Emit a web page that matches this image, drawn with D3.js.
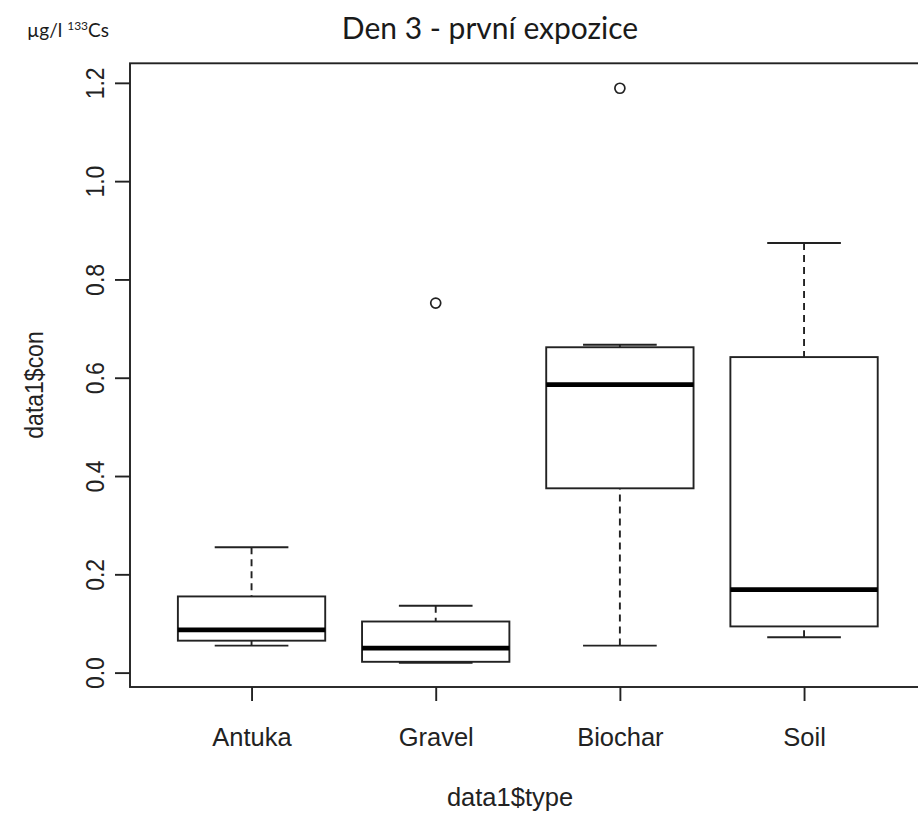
<!DOCTYPE html>
<html>
<head>
<meta charset="utf-8">
<script src="https://cdn.jsdelivr.net/npm/d3@7"></script>
<style>
  html, body { margin: 0; padding: 0; background: #fff; }
  svg { display: block; }
</style>
</head>
<body>
<svg id="chart" width="918" height="814"></svg>
<script>
// ---- data ----
const categories = ["Antuka", "Gravel", "Biochar", "Soil"];
const lowerWhisker = [0.055, 0.020, 0.055, 0.072];
const q1Values     = [0.065, 0.022, 0.375, 0.094];
const medianValues = [0.087, 0.050, 0.586, 0.169];
const q3Values     = [0.155, 0.104, 0.662, 0.642];
const upperWhisker = [0.255, 0.136, 0.667, 0.874];
const outlierCategory = ["Gravel", "Biochar"];
const outlierValues   = [0.752, 1.189];
const yTickValues = [0.0, 0.2, 0.4, 0.6, 0.8, 1.0, 1.2];
const yTickLabels = ["0.0", "0.2", "0.4", "0.6", "0.8", "1.0", "1.2"];
const titleText = "Den 3 - první expozice";
const xLabel = "data1$type";
const yLabel = "data1$con";

// ---- layout ----
const plot = { left: 130, right: 925.6, top: 63.3, bottom: 687 };
const svg = d3.select("#chart");
const ink = "#222";
const lw = 1.9;
const sx = 1.11; // horizontal stretch used for rotated labels
const hx = 1.02; // horizontal stretch for horizontal labels
const fontR = "'Liberation Sans', Arial, sans-serif";

// R-like extension of ranges (4%)
const n = categories.length;
const xExt = 0.04 * n;
const x = d3.scaleLinear().domain([0.5 - xExt, n + 0.5 + xExt]).range([plot.left, plot.right]);
const allVals = lowerWhisker.concat(upperWhisker, outlierValues);
const yMin = d3.min(allVals), yMax = d3.max(allVals);
const yExt = 0.04 * (yMax - yMin);
const y = d3.scaleLinear().domain([yMin - yExt - 0.0025, yMax + yExt + 0.004]).range([plot.bottom, plot.top]);

const boxes = categories.map((c, i) => ({
  cat: c, pos: i + 1,
  lo: lowerWhisker[i], q1: q1Values[i], med: medianValues[i], q3: q3Values[i], hi: upperWhisker[i]
}));
const boxHalf = 0.4, capHalf = 0.2;

const g = svg.append("g");

// whiskers (dashed)
g.selectAll(".wlo").data(boxes).join("line")
  .attr("x1", d => x(d.pos)).attr("x2", d => x(d.pos))
  .attr("y1", d => y(d.lo)).attr("y2", d => y(d.q1))
  .attr("stroke", ink).attr("stroke-width", lw).attr("stroke-dasharray", "7,5");
g.selectAll(".whi").data(boxes).join("line")
  .attr("x1", d => x(d.pos)).attr("x2", d => x(d.pos))
  .attr("y1", d => y(d.hi)).attr("y2", d => y(d.q3))
  .attr("stroke", ink).attr("stroke-width", lw).attr("stroke-dasharray", "7,5");
// caps
["lo", "hi"].forEach(k => {
  g.selectAll(".cap" + k).data(boxes).join("line")
    .attr("x1", d => x(d.pos - capHalf)).attr("x2", d => x(d.pos + capHalf))
    .attr("y1", d => y(d[k])).attr("y2", d => y(d[k]))
    .attr("stroke", ink).attr("stroke-width", lw);
});
// boxes
g.selectAll(".box").data(boxes).join("rect")
  .attr("x", d => x(d.pos - boxHalf)).attr("width", d => x(d.pos + boxHalf) - x(d.pos - boxHalf))
  .attr("y", d => y(d.q3)).attr("height", d => y(d.q1) - y(d.q3))
  .attr("fill", "#fff").attr("stroke", ink).attr("stroke-width", lw);
// medians
g.selectAll(".med").data(boxes).join("line")
  .attr("x1", d => x(d.pos - boxHalf)).attr("x2", d => x(d.pos + boxHalf))
  .attr("y1", d => y(d.med)).attr("y2", d => y(d.med))
  .attr("stroke", "#000").attr("stroke-width", 4.8);
// outliers
g.selectAll(".out").data(outlierValues.map((v, i) => ({ v, pos: categories.indexOf(outlierCategory[i]) + 1 })))
  .join("circle")
  .attr("cx", d => x(d.pos)).attr("cy", d => y(d.v)).attr("r", 5)
  .attr("fill", "none").attr("stroke", ink).attr("stroke-width", 1.7);

// frame
svg.append("rect")
  .attr("x", plot.left).attr("y", plot.top)
  .attr("width", plot.right - plot.left).attr("height", plot.bottom - plot.top)
  .attr("fill", "none").attr("stroke", ink).attr("stroke-width", lw);

// y axis
const yAxis = d3.axisLeft(y).tickValues(yTickValues)
  .tickFormat((d, i) => yTickLabels[i]).tickSize(15).tickSizeOuter(0);
const ya = svg.append("g").attr("transform", `translate(${plot.left},0)`).call(yAxis);
ya.select(".domain").remove();
ya.selectAll(".tick line").attr("stroke", ink).attr("stroke-width", lw);
ya.selectAll(".tick text")
  .attr("x", 0).attr("y", 0).attr("dy", 0)
  .attr("transform", `translate(-26,0) rotate(-90) scale(1,${sx})`)
  .attr("text-anchor", "middle")
  .attr("font-family", fontR)
  .attr("font-size", 23).attr("fill", "#222");

// x axis
const xAxis = d3.axisBottom(x).tickValues(boxes.map(d => d.pos))
  .tickFormat((d, i) => categories[i]).tickSize(14).tickSizeOuter(0);
const xa = svg.append("g").attr("transform", `translate(0,${plot.bottom})`).call(xAxis);
xa.select(".domain").remove();
xa.selectAll(".tick line").attr("stroke", ink).attr("stroke-width", lw);
xa.selectAll(".tick text")
  .attr("y", 0).attr("dy", 0)
  .attr("transform", `translate(0,59) scale(${hx},1)`)
  .attr("font-family", fontR)
  .attr("font-size", 25).attr("fill", "#222");

// axis titles
svg.append("text")
  .attr("transform", `translate(510,806) scale(${hx},1)`)
  .attr("text-anchor", "middle")
  .attr("font-family", fontR)
  .attr("font-size", 25).attr("fill", "#222").text(xLabel);
svg.append("text")
  .attr("transform", `translate(43,385) rotate(-90) scale(1,${sx})`)
  .attr("text-anchor", "middle")
  .attr("font-family", fontR)
  .attr("font-size", 23).attr("fill", "#222").text(yLabel);

// title
svg.append("text").attr("x", 490).attr("y", 39)
  .attr("text-anchor", "middle")
  .attr("font-family", "Lato, 'Open Sans', sans-serif")
  .attr("font-size", 30).attr("fill", "#1a1a1a").text(titleText);

// unit label
const unit = svg.append("text").attr("x", 27).attr("y", 37)
  .attr("font-family", "Lato, 'Open Sans', sans-serif")
  .attr("font-size", 19).attr("fill", "#1a1a1a");
unit.append("tspan").text("µg/l ");
unit.append("tspan").attr("font-size", 12).attr("dy", -7).text("133");
unit.append("tspan").attr("dy", 7).text("Cs");
</script>
</body>
</html>
